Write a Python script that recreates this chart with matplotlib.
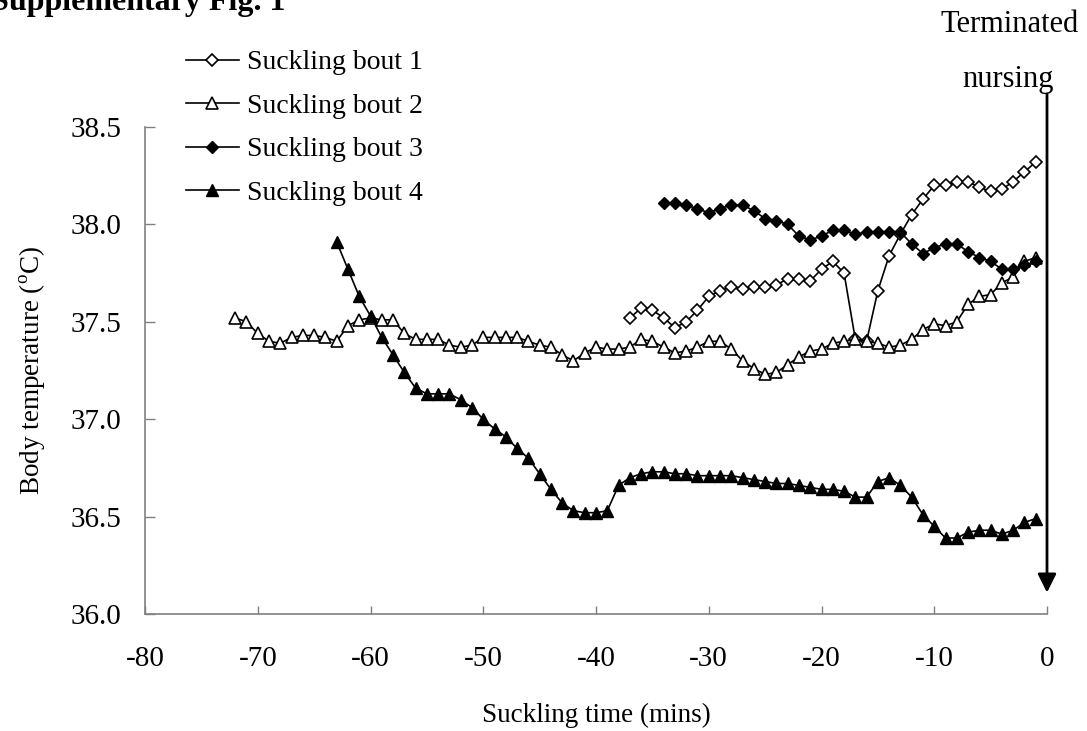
import numpy as np
import matplotlib
matplotlib.use('Agg')
import matplotlib.pyplot as plt

plt.rcParams['font.family'] = ['Liberation Serif', 'DejaVu Serif']
plt.rcParams['mathtext.fontset'] = 'custom'
plt.rcParams['mathtext.rm'] = 'Liberation Serif'
plt.rcParams['axes.unicode_minus'] = False

# suckling bouts (minutes before termination, body temp)
t1 = list(range(-37, 0))
bout1 = [37.52, 37.57, 37.56, 37.52, 37.47, 37.50, 37.56, 37.63, 37.66, 37.68,
         37.67, 37.68, 37.68, 37.69, 37.72, 37.72, 37.71, 37.77, 37.81, 37.75,
         37.41, 37.40, 37.66, 37.84, 37.95, 38.05, 38.13, 38.20, 38.20, 38.22,
         38.22, 38.19, 38.17, 38.18, 38.22, 38.27, 38.32]

t2 = list(range(-72, 0))
bout2 = [37.52, 37.50, 37.44, 37.40, 37.39, 37.42, 37.43, 37.43, 37.42, 37.40,
         37.48, 37.51, 37.52, 37.51, 37.51, 37.44, 37.41, 37.41, 37.41, 37.38,
         37.37, 37.38, 37.42, 37.42, 37.42, 37.42, 37.40, 37.38, 37.37, 37.33,
         37.30, 37.34, 37.37, 37.36, 37.36, 37.37, 37.41, 37.40, 37.37, 37.34,
         37.35, 37.37, 37.40, 37.40, 37.36, 37.30, 37.26, 37.23, 37.24, 37.28,
         37.32, 37.35, 37.36, 37.39, 37.40, 37.41, 37.40, 37.39, 37.37, 37.38,
         37.41, 37.46, 37.49, 37.48, 37.50, 37.59, 37.63, 37.64, 37.70, 37.73,
         37.81, 37.83]

t3 = list(range(-34, 0))
bout3 = [38.11, 38.11, 38.10, 38.08, 38.06, 38.08, 38.10, 38.10, 38.07, 38.03,
         38.02, 38.00, 37.94, 37.92, 37.94, 37.97, 37.97, 37.95, 37.96, 37.96,
         37.96, 37.96, 37.90, 37.85, 37.88, 37.90, 37.90, 37.86, 37.83, 37.81,
         37.77, 37.77, 37.79, 37.81]

t4 = list(range(-63, 0))
bout4 = [37.91, 37.77, 37.63, 37.53, 37.42, 37.33, 37.24, 37.16, 37.13, 37.13,
         37.13, 37.10, 37.06, 37.00, 36.95, 36.91, 36.85, 36.80, 36.72, 36.64,
         36.57, 36.53, 36.52, 36.52, 36.53, 36.66, 36.70, 36.72, 36.73, 36.73,
         36.72, 36.72, 36.71, 36.71, 36.71, 36.71, 36.70, 36.69, 36.68, 36.67,
         36.67, 36.66, 36.65, 36.64, 36.64, 36.63, 36.60, 36.60, 36.68, 36.70,
         36.66, 36.60, 36.51, 36.45, 36.39, 36.39, 36.42, 36.43, 36.43, 36.41,
         36.43, 36.47, 36.49]

labels = ['Suckling bout 1', 'Suckling bout 2', 'Suckling bout 3', 'Suckling bout 4']

fig = plt.figure(figsize=(10.87, 7.31), dpi=100)
ax = fig.add_axes([145/1087, 1-614/731, (1047-145)/1087, (614-127)/731])

lw = 1.2
ax.plot(t1, bout1, '-D', color='black', lw=lw, ms=6.2, mfc='white', mec='black', mew=1.2, label=labels[0])
ax.plot(t2, bout2, '-^', color='black', lw=lw, ms=8.8, mfc='white', mec='black', mew=1.2, label=labels[1])
ax.plot(t3, bout3, '-D', color='black', lw=lw, ms=6.5, mfc='black', mec='black', label=labels[2])
ax.plot(t4, bout4, '-^', color='black', lw=lw, ms=8.8, mfc='black', mec='black', label=labels[3])

# terminated nursing arrow
ax.annotate('', xy=(0, 36.11), xytext=(0, 38.67), annotation_clip=False,
            arrowprops=dict(arrowstyle='-|>', color='black', lw=2, mutation_scale=28, shrinkA=0, shrinkB=0))
fig.text(1010/1087, 1-24/731, 'Terminated', fontsize=22, ha='center', va='center')
fig.text(1008/1087, 1-79/731, 'nursing', fontsize=22, ha='center', va='center')

fig.text(-9/1087, 1-10/731, 'Supplementary Fig. 1', fontsize=23, fontweight='bold', ha='left', va='baseline')

ax.set_xlim(-80, 0)
ax.set_ylim(36.0, 38.5)
ax.set_xticks(np.arange(-80, 1, 10))
ax.set_yticks(np.arange(36.0, 38.51, 0.5))
ax.set_yticklabels(['%.1f' % v for v in np.arange(36.0, 38.51, 0.5)])
ax.tick_params(axis='x', direction='in', length=6, width=1, color='#808080', labelsize=21, pad=23)
ax.tick_params(axis='y', direction='in', length=7, width=1, color='#808080', labelsize=21, pad=17)
for s in ['top', 'right']:
    ax.spines[s].set_visible(False)
for s in ['left', 'bottom']:
    ax.spines[s].set_color('#808080')
    ax.spines[s].set_linewidth(1.2)

ax.set_xlabel('Suckling time (mins)', fontsize=19.5, labelpad=22)
ax.set_ylabel(r'Body temperature ($^{\rm o}$C)', fontsize=19.5, labelpad=17)

leg = ax.legend(loc='upper left', bbox_to_anchor=(186/1087, 1-50/731), bbox_transform=fig.transFigure,
                frameon=False, fontsize=20, handlelength=1.9, handletextpad=0.3,
                labelspacing=0.65, borderpad=0, borderaxespad=0)

fig.savefig('out.png', dpi=100)
